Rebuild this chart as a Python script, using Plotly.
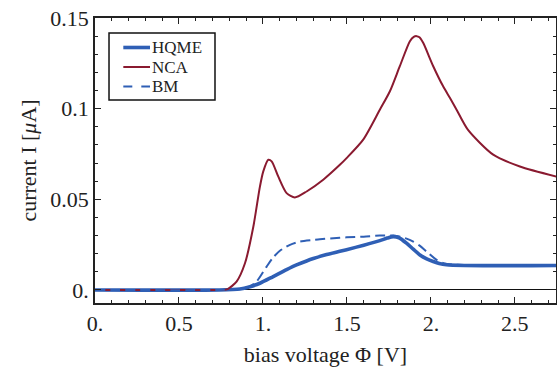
import plotly.graph_objects as go

# ---- data ----
nca_x = [0, 0.7, 0.76, 0.79, 0.843, 0.893, 0.943, 0.982, 1.002, 1.032, 1.052, 1.091, 1.141,
         1.19, 1.26, 1.359, 1.458, 1.498, 1.597, 1.696, 1.756, 1.815, 1.875, 1.898, 1.915, 1.932,
         1.954, 2.014, 2.073, 2.113, 2.153, 2.22, 2.371, 2.53, 2.75]
nca_y = [0, 0, 0, 0.0005, 0.0046, 0.0147, 0.035, 0.057, 0.0654, 0.0718, 0.0709, 0.0626, 0.0534,
         0.051, 0.0543, 0.0608, 0.069, 0.0727, 0.0829, 0.0994, 0.1096, 0.1234, 0.1372, 0.1396,
         0.140, 0.1394, 0.1363, 0.1234, 0.1123, 0.106, 0.0994, 0.0884, 0.0746, 0.0681, 0.0625]

hqme_x = [0, 0.74, 0.863, 0.923, 0.982, 1.061, 1.141, 1.2, 1.26, 1.3, 1.379, 1.458, 1.498, 1.6,
          1.696, 1.74, 1.776, 1.81, 1.855, 1.895, 1.935, 1.975, 2.014, 2.05, 2.093, 2.2, 2.4,
          2.6, 2.75]
hqme_y = [0, 0, 0.0005, 0.0018, 0.0037, 0.0074, 0.0112, 0.0138, 0.016, 0.0173, 0.0195, 0.0213,
          0.0222, 0.0247, 0.0272, 0.0286, 0.0294, 0.0288, 0.0258, 0.0225, 0.0193, 0.0172, 0.0157,
          0.0146, 0.0139, 0.0135, 0.0134, 0.0134, 0.0135]

bm_x = [0, 0.74, 0.863, 0.923, 0.962, 1.022, 1.06, 1.101, 1.161, 1.22, 1.3, 1.339, 1.458, 1.498,
        1.6, 1.696, 1.776, 1.82, 1.855, 1.895, 1.935, 1.974, 2.034, 2.08, 2.15, 2.4, 2.75]
bm_y = [0, 0, 0.0005, 0.002, 0.0046, 0.0129, 0.0178, 0.0216, 0.0249, 0.0267, 0.0276, 0.028,
        0.0288, 0.029, 0.0294, 0.030, 0.030, 0.0293, 0.0283, 0.0267, 0.0243, 0.0212, 0.0166,
        0.0146, 0.0139, 0.0137, 0.0138]

x_tickvals = [0, 0.5, 1, 1.5, 2, 2.5]
x_ticktext = ["0.", "0.5", "1.", "1.5", "2.", "2.5"]
y_tickvals = [0, 0.05, 0.1, 0.15]
y_ticktext = ["0.", "0.05", "0.1", "0.15"]

series_names = ["HQME", "NCA", "BM"]

BLUE = "#2f5fb5"
RED = "#8a1a30"
INK = "#222"
FONT = "Liberation Serif, Times New Roman, serif"

styles = {
    "HQME": dict(color=BLUE, width=3.6, dash="solid"),
    "NCA": dict(color=RED, width=2, dash="solid"),
    "BM": dict(color=BLUE, width=2, dash="10px,5px"),
}
data = {"HQME": (hqme_x, hqme_y), "NCA": (nca_x, nca_y), "BM": (bm_x, bm_y)}

fig = go.Figure()
for name in series_names:
    xs, ys = data[name]
    fig.add_trace(go.Scatter(x=xs, y=ys, mode="lines", name=name, showlegend=False,
                             line=dict(shape="spline", smoothing=0.7, **styles[name])))

axis_common = dict(
    showline=True, linecolor=INK, linewidth=1.5, mirror="allticks",
    ticks="inside", ticklen=6, tickwidth=1, tickcolor=INK,
    showgrid=False, tickfont=dict(family=FONT, size=22, color=INK),
)

fig.update_xaxes(
    range=[0, 2.745], tickvals=x_tickvals, ticktext=x_ticktext,
    minor=dict(dtick=0.1, ticks="inside", ticklen=3, tickcolor=INK, showgrid=False),
    zeroline=False,
    title=dict(text="bias voltage Φ [V]", font=dict(family=FONT, size=22, color=INK), standoff=11),
    **axis_common,
)
fig.update_yaxes(
    range=[-0.0072, 0.15], tickvals=y_tickvals, ticktext=y_ticktext,
    minor=dict(dtick=0.01, ticks="inside", ticklen=3, tickcolor=INK, showgrid=False),
    zeroline=True, zerolinecolor="#111", zerolinewidth=1,
    title=dict(text="current I [<i>μ</i>A]", font=dict(family=FONT, size=22, color=INK), standoff=8),
    **axis_common,
)

# ---- legend box drawn in paper coordinates ----
shapes = [dict(type="rect", xref="paper", yref="paper", x0=0.0304, x1=0.2603, y0=0.7123, y1=0.9474,
               line=dict(color="#111", width=1.5), fillcolor="white", layer="above")]
annotations = []
row_y = [0.8965, 0.828, 0.7596]
for name, yy in zip(series_names, row_y):
    st = styles[name]
    shapes.append(dict(type="line", xref="paper", yref="paper", x0=0.0614, x1=0.1193, y0=yy, y1=yy,
                       line=dict(color=st["color"], width=st["width"],
                                 dash="dash" if name == "BM" else "solid"),
                       layer="above"))
    annotations.append(dict(xref="paper", yref="paper", x=0.121, y=yy, text=name, showarrow=False,
                            xanchor="left", yanchor="middle", borderpad=0,
                            font=dict(family=FONT, size=17, color=INK)))

fig.update_layout(
    width=557, height=368,
    margin=dict(l=95, r=1, t=18, b=65, autoexpand=False),
    paper_bgcolor="white", plot_bgcolor="white",
    font=dict(family=FONT, color=INK),
    showlegend=False,
    shapes=shapes, annotations=annotations,
)

fig.write_html("out.html")
